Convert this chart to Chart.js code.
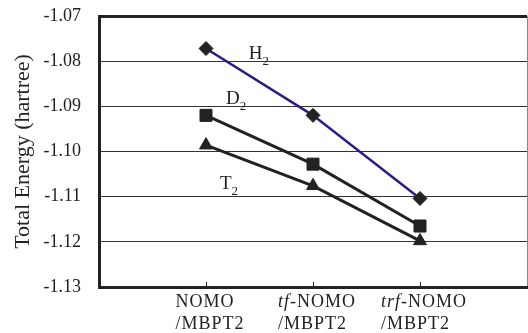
<!DOCTYPE html>
<html>
<head>
<meta charset="utf-8">
<script src="https://cdn.jsdelivr.net/npm/chart.js@4.4.0/dist/chart.umd.min.js"></script>
<style>
    html, body { margin: 0; padding: 0; background: #fff; }
    #wrap { width: 528px; height: 333px; }
</style>
</head>
<body>
<div id="wrap"><canvas id="energyChart"></canvas></div>
<script>
// methods on the x axis (italic prefix + name, second line)
const methodPrefix = ['', 'tf', 'trf'];
const methodName = ['NOMO', 'NOMO', 'NOMO'];
const methodLine2 = ['/MBPT2', '/MBPT2', '/MBPT2'];

// total energies (hartree)
const h2Energy = [-1.0772, -1.0920, -1.1104];
const d2Energy = [-1.0920, -1.1028, -1.1165];
const t2Energy = [-1.0986, -1.1076, -1.1198];

const yTicks = [-1.13, -1.12, -1.11, -1.10, -1.09, -1.08, -1.07];

// series labels: letter + subscript
const seriesLabels = [['H', '2'], ['D', '2'], ['T', '2']];
// where each label sits, in data units (x, y at baseline)
const labelAnchors = [[1.40, -1.0796], [1.187, -1.0895], [1.131, -1.1084]];

const serif = "'Liberation Serif', 'Times New Roman', serif";
const ink = '#222';

function toPoints(values) {
    return values.map((v, i) => ({ x: i + 1, y: v }));
}

// draws x category labels (with italic prefixes), inner tick marks and series names
const annotatePlugin = {
    id: 'annotate',
    afterDraw(chart) {
        const ctx = chart.ctx;
        const xs = chart.scales.x;
        const ys = chart.scales.y;
        const bottom = chart.chartArea.bottom;

        ctx.save();
        ctx.fillStyle = ink;
        ctx.strokeStyle = ink;
        ctx.textBaseline = 'alphabetic';
        ctx.textAlign = 'left';
        if ('letterSpacing' in ctx) ctx.letterSpacing = '1px';

        const normal = '18px ' + serif;
        const italic = 'italic 18px ' + serif;

        methodName.forEach((name, i) => {
            const x = xs.getPixelForValue(i + 1);

            // tick mark pointing into the plot
            ctx.lineWidth = 1;
            ctx.beginPath();
            ctx.moveTo(Math.round(x) + 0.5, bottom - 1);
            ctx.lineTo(Math.round(x) + 0.5, bottom - 5);
            ctx.stroke();

            const pre = methodPrefix[i];
            const rest = pre ? '-' + name : name;
            ctx.font = italic;
            const wPre = pre ? ctx.measureText(pre).width : 0;
            ctx.font = normal;
            const wRest = ctx.measureText(rest).width;
            const w2 = ctx.measureText(methodLine2[i]).width;
            const blockW = Math.max(wPre + wRest, w2);
            const left = x - blockW / 2 + 4;

            if (pre) {
                ctx.font = italic;
                ctx.fillText(pre, left, bottom + 20);
            }
            ctx.font = normal;
            ctx.fillText(rest, left + wPre, bottom + 20);
            ctx.fillText(methodLine2[i], left, bottom + 42);
        });

        if ('letterSpacing' in ctx) ctx.letterSpacing = '0px';
        seriesLabels.forEach((lab, i) => {
            const px = xs.getPixelForValue(labelAnchors[i][0]);
            const py = ys.getPixelForValue(labelAnchors[i][1]);
            ctx.font = '19px ' + serif;
            ctx.fillText(lab[0], px, py);
            const w = ctx.measureText(lab[0]).width;
            ctx.font = '13px ' + serif;
            ctx.fillText(lab[1], px + w, py + 6);
        });
        ctx.restore();
    }
};

const ctx = document.getElementById('energyChart').getContext('2d');

new Chart(ctx, {
    type: 'line',
    data: {
        datasets: [{
            label: 'H2',
            data: toPoints(h2Energy),
            borderColor: '#2e1a87',
            borderWidth: 2.5,
            pointStyle: 'rectRot',
            pointRadius: 7,
            pointBackgroundColor: ink,
            pointBorderColor: ink,
            pointBorderWidth: 1
        }, {
            label: 'D2',
            data: toPoints(d2Energy),
            borderColor: ink,
            borderWidth: 3,
            pointStyle: 'rect',
            pointRadius: 8.5,
            pointBackgroundColor: ink,
            pointBorderColor: ink,
            pointBorderWidth: 1
        }, {
            label: 'T2',
            data: toPoints(t2Energy),
            borderColor: ink,
            borderWidth: 3,
            pointStyle: 'triangle',
            pointRadius: 7.5,
            pointBackgroundColor: ink,
            pointBorderColor: ink,
            pointBorderWidth: 1
        }]
    },
    options: {
        responsive: true,
        maintainAspectRatio: false,
        animation: false,
        layout: { autoPadding: false, padding: { top: 16, right: 1, left: 0, bottom: 0 } },
        plugins: {
            legend: { display: false },
            tooltip: { enabled: false }
        },
        scales: {
            x: {
                type: 'linear',
                min: 0,
                max: 4,
                afterBuildTicks: s => { s.ticks = [0, 1, 2, 3, 4].map(v => ({ value: v })); },
                afterFit: s => { s.height = 46; s.paddingLeft = 0; s.paddingRight = 0; },
                ticks: { display: false },
                grid: {
                    drawTicks: false,
                    color: c => (c.tick && c.tick.value === 4) ? '#888' : 'transparent',
                    lineWidth: 1
                },
                border: { display: true, color: ink, width: 3 }
            },
            y: {
                min: -1.13,
                max: -1.07,
                afterBuildTicks: s => { s.ticks = yTicks.map(v => ({ value: v })); },
                afterFit: s => { s.width = 99; s.paddingTop = 0; s.paddingBottom = 0; },
                ticks: {
                    padding: 18,
                    color: ink,
                    font: { family: serif, size: 18 },
                    callback: v => v.toFixed(2)
                },
                grid: {
                    drawTicks: false,
                    color: c => (c.index === 0) ? 'transparent' : (c.index === yTicks.length - 1 ? ink : '#333'),
                    lineWidth: c => (c.index === yTicks.length - 1) ? 3 : 1
                },
                border: { display: true, color: ink, width: 3 },
                title: {
                    display: true,
                    text: 'Total Energy (hartree)',
                    color: ink,
                    font: { family: serif, size: 22 },
                    padding: { top: 10, bottom: 0 }
                }
            }
        }
    },
    plugins: [annotatePlugin]
});
</script>
</body>
</html>
